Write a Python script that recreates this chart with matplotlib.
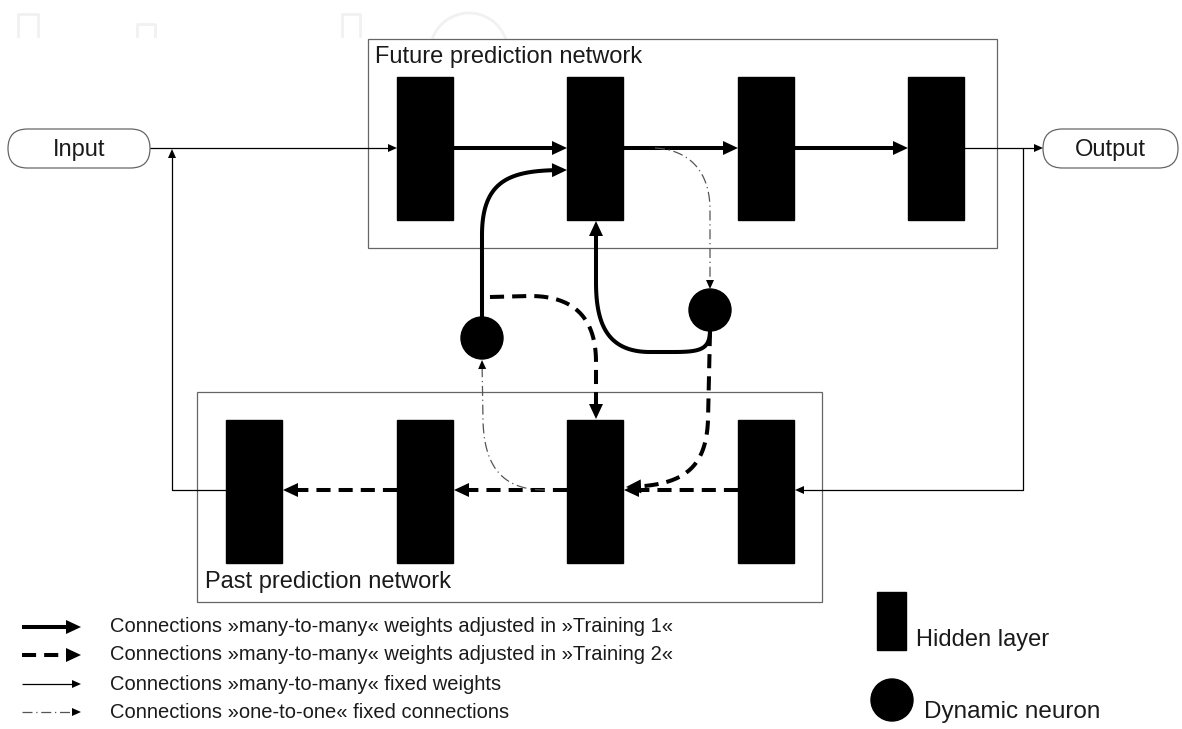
import numpy as np
import matplotlib.pyplot as plt
from matplotlib.patches import Rectangle, Circle, FancyBboxPatch, Polygon, Arc

plt.rcParams['font.family'] = ['Liberation Sans', 'DejaVu Sans']

# boxes / nodes (pixel coordinates, y grows downward)
top_layers_x = [397, 567, 738, 908]
bottom_layers_x = [226, 397, 567, 738]
layer_w = 56
top_layer_y = (77, 220)
bottom_layer_y = (420, 563)
neurons = [(482, 338), (710, 310)]
neuron_r = 21
future_box = (368, 39, 997, 248)
past_box = (197, 392, 822, 602)
box_titles = ["Future prediction network", "Past prediction network"]
io_labels = ["Input", "Output"]
io_boxes = [(8, 129, 150, 168), (1043, 129, 1178, 168)]

legend_labels = [
    "Connections \u00bbmany-to-many\u00ab weights adjusted in \u00bbTraining 1\u00ab",
    "Connections \u00bbmany-to-many\u00ab weights adjusted in \u00bbTraining 2\u00ab",
    "Connections \u00bbmany-to-many\u00ab fixed weights",
    "Connections \u00bbone-to-one\u00ab fixed connections",
]
legend_y = [627, 655, 684, 712]
symbol_labels = ["Hidden layer", "Dynamic neuron"]

# styles
THICK = dict(lw=2.9, color='black', ls='-')
DASH = dict(lw=2.9, color='black', ls=(0, (3.5, 2.0)))
THIN = dict(lw=0.9, color='black', ls='-')
DOT = dict(lw=0.9, color='#555555', ls=(0, (8, 3, 1, 3)))
big_head = (15, 7)
small_head = (9, 4)
TXT = '#1a1a1a'


def bez(p0, p1, p2, p3, n=40):
    t = np.linspace(0, 1, n)[:, None]
    p0, p1, p2, p3 = map(np.asarray, (p0, p1, p2, p3))
    return (1 - t) ** 3 * p0 + 3 * (1 - t) ** 2 * t * p1 + 3 * (1 - t) * t ** 2 * p2 + t ** 3 * p3


def build(segs):
    pts = [np.array(segs[0], float)]
    for s in segs[1:]:
        if len(s) == 2:
            pts.append(np.array(s, float))
        else:
            pts.extend(bez(pts[-1], s[0], s[1], s[2])[1:])
    return np.array(pts)


def arrow(ax, segs, style, head=None):
    pts = build(segs)
    if head:
        L, W = head
        tip = pts[-1]
        d = np.linalg.norm(pts - tip, axis=1)
        keep = pts[d > L * 0.6]
        prev = keep[-1]
        u = (tip - prev) / np.linalg.norm(tip - prev)
        base = tip - u * L
        n = np.array([-u[1], u[0]])
        ax.add_patch(Polygon([tip, base + n * W, base - n * W], closed=True,
                             color='black', lw=0, zorder=4))
        pts = np.vstack([keep, tip - u * L * 0.6])
    ax.plot(pts[:, 0], pts[:, 1], solid_capstyle='butt', dash_capstyle='butt', zorder=3, **style)


fig = plt.figure(figsize=(11.82, 7.29), dpi=100)
ax = fig.add_axes([0, 0, 1, 1])
ax.set_xlim(0, 1182)
ax.set_ylim(729, 0)
ax.axis('off')

# faint watermark
wm = '#f1f1f1'
for x0, x1, y0 in [(18, 38, 14), (137, 155, 24), (342, 360, 14)]:
    ax.plot([x0, x0, x1, x1], [36, y0, y0, 36], color=wm, lw=2)
ax.add_patch(Arc((469, 52), 78, 78, theta1=200, theta2=340, color=wm, lw=2))

# group boxes
for (x0, y0, x1, y1) in [future_box, past_box]:
    ax.add_patch(Rectangle((x0, y0), x1 - x0, y1 - y0, fill=False, ec='#666666', lw=0.9))
ax.text(future_box[0] + 7, future_box[1] + 18, box_titles[0], fontsize=17, va='center', color=TXT)
ax.text(past_box[0] + 8, past_box[3] - 20, box_titles[1], fontsize=17, va='center', color=TXT)

# hidden layers
for x in top_layers_x:
    ax.add_patch(Rectangle((x, top_layer_y[0]), layer_w, top_layer_y[1] - top_layer_y[0], color='black', zorder=5))
for x in bottom_layers_x:
    ax.add_patch(Rectangle((x, bottom_layer_y[0]), layer_w, bottom_layer_y[1] - bottom_layer_y[0], color='black', zorder=5))
for cx, cy in neurons:
    ax.add_patch(Circle((cx, cy), neuron_r, color='black', zorder=5))

# input / output pills
for (x0, y0, x1, y1), lab in zip(io_boxes, io_labels):
    h = y1 - y0
    ax.add_patch(FancyBboxPatch((x0, y0), x1 - x0, h, boxstyle=f"round,pad=0,rounding_size={h / 2}",
                                fill=False, ec='#666666', lw=0.9))
    ax.text((x0 + x1) / 2, (y0 + y1) / 2 + 1, lab, fontsize=17, ha='center', va='center', color=TXT)

ym_top, ym_bot = 148, 490
# thin connections
arrow(ax, [(150, ym_top), (397, ym_top)], THIN, small_head)
arrow(ax, [(226, ym_bot), (172, ym_bot), (172, ym_top + 1)], THIN, small_head)
arrow(ax, [(964, ym_top), (1043, ym_top)], THIN, small_head)
arrow(ax, [(1023, ym_top), (1023, ym_bot), (795, ym_bot)], THIN, small_head)

# training 1 connections
for a, b in zip(top_layers_x[:-1], top_layers_x[1:]):
    arrow(ax, [(a + layer_w, ym_top), (b, ym_top)], THICK, big_head)
arrow(ax, [(482, 318), (482, 235), ((482, 176), (515, 170), (567, 170))], THICK, big_head)
arrow(ax, [(710, 330), ((710, 350), (700, 352), (672, 352)), (650, 352),
           ((606, 352), (596, 322), (596, 282)), (596, 221)], THICK, big_head)

# training 2 connections
for a, b in zip(bottom_layers_x[1:], bottom_layers_x[:-1]):
    arrow(ax, [(a, ym_bot), (b + layer_w + 1, ym_bot)], DASH, big_head)
arrow(ax, [(490, 297), (530, 296), ((574, 296), (596, 318), (596, 362)), (596, 419)], DASH, big_head)
arrow(ax, [(710, 332), (708, 420), ((706, 470), (682, 486), (626, 487))], DASH, big_head)

# one-to-one connections
arrow(ax, [(655, ym_top), ((690, 150), (710, 172), (710, 210)), (710, 289)], DOT, small_head)
arrow(ax, [(545, ym_bot), ((502, 490), (484, 466), (483, 420)), (482, 360)], DOT, small_head)

# legend
styles = [(THICK, big_head), (DASH, big_head), (THIN, small_head), (DOT, small_head)]
for y, lab, (st, hd) in zip(legend_y, legend_labels, styles):
    arrow(ax, [(22, y), (81, y)], st, hd)
    ax.text(110, y, lab, fontsize=14.5, va='center', color=TXT)

ax.add_patch(Rectangle((877, 592), 29, 58, color='black'))
ax.text(916, 640, symbol_labels[0], fontsize=17, va='center', color=TXT)
ax.add_patch(Circle((892, 700), 21, color='black'))
ax.text(924, 712, symbol_labels[1], fontsize=17.5, va='center', color=TXT)

fig.savefig('out.png', dpi=100)
